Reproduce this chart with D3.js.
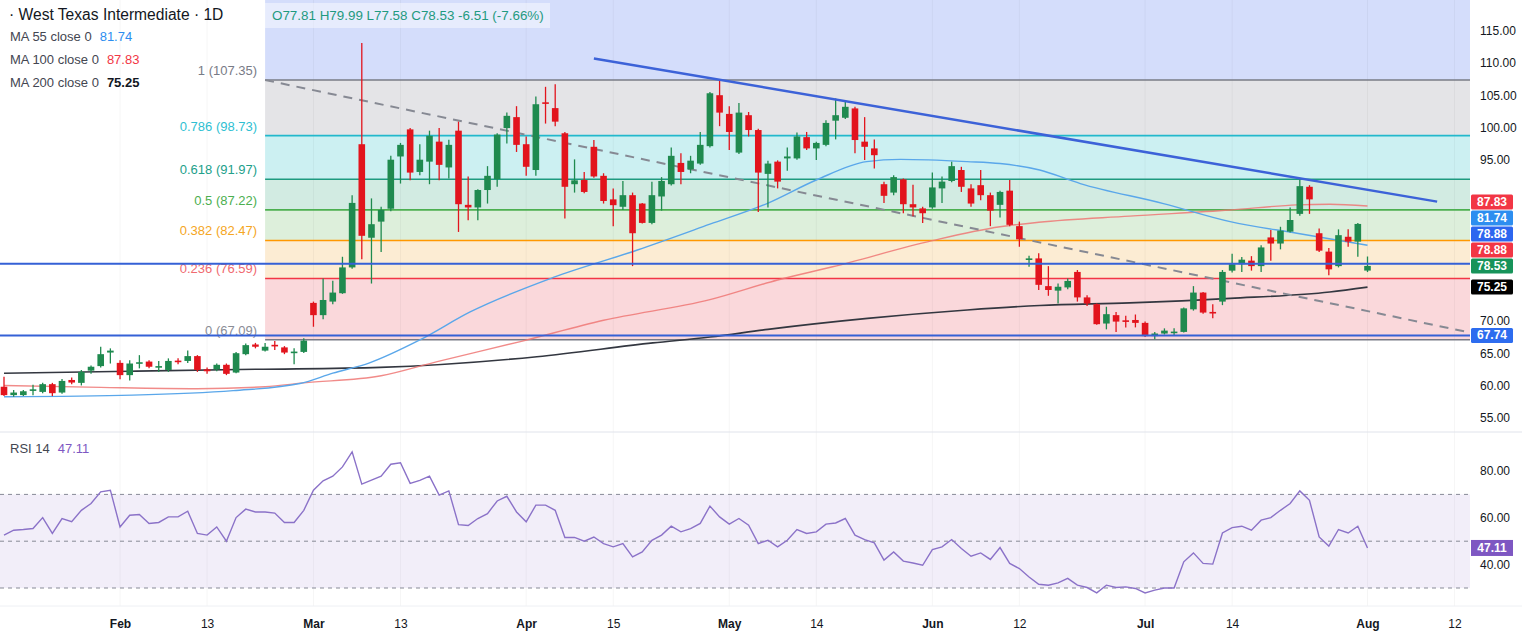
<!DOCTYPE html>
<html><head><meta charset="utf-8">
<script src="https://cdn.jsdelivr.net/npm/d3@7/dist/d3.min.js"></script>
<style>
html,body{margin:0;padding:0;background:#fff;overflow:hidden;}
svg{display:block;font-family:"Liberation Sans",Arial,sans-serif;}
</style></head><body>
<svg id="c" width="1522" height="632"></svg>
<script>
// ---------------- DATA ----------------
const opens=[59.8,58.5,58.5,59.2,59.0,60.2,58.9,60.85,60.4,62.3,
63.0,65.1,63.5,61.6,63.4,63.7,62.85,62.4,63.85,63.8,
64.55,62.5,62.5,63.2,62.0,64.85,66.35,65.4,66.3,65.9,
65.15,65.2,72.8,70.9,73.0,74.3,78.3,97.4,82.9,85.4,
87.4,95.5,99.7,93.1,94.7,97.8,93.8,99.5,88.0,87.6,
90.3,92.0,99.9,101.6,97.4,93.4,103.9,103.0,99.1,91.2,
91.85,97.0,92.5,88.85,87.7,89.5,88.2,85.2,89.3,91.2,
94.5,93.5,94.4,97.1,105.0,102.1,96.1,101.9,99.6,92.8,
94.7,95.2,95.2,98.5,96.75,97.3,101.05,101.5,102.95,97.8,
96.75,91.2,89.9,91.95,88.1,87.45,87.6,90.55,91.7,93.4,
90.55,91.05,89.5,88.0,90.2,84.7,79.6,79.7,75.4,74.7,
75.2,77.6,73.65,72.6,69.6,70.9,70.1,70.15,69.7,67.65,
68.05,68.25,68.3,71.8,74.4,71.4,73.0,77.8,78.8,79.35,
78.5,82.95,82.0,83.85,86.6,90.8,83.6,80.75,78.5,83.05,
82.3,77.81];
const highs=[61.35,59.3,59.3,60.1,60.4,60.4,61.0,61.25,62.4,63.1,
66.0,65.75,63.9,63.9,64.7,63.9,63.8,64.2,64.2,65.4,
64.7,62.8,63.4,63.4,65.2,66.5,66.6,66.6,66.9,66.1,
65.75,67.3,73.0,76.6,76.25,79.95,89.5,113.1,89.0,87.7,
95.6,97.6,99.9,97.4,99.5,99.9,98.1,100.9,92.4,90.4,
94.0,99.1,102.3,103.3,98.6,104.8,106.3,106.7,99.3,95.05,
93.1,98.05,92.9,90.55,91.7,89.9,88.3,91.6,92.3,96.9,
96.0,95.6,99.3,105.5,107.35,103.3,103.8,102.4,99.8,94.85,
94.9,96.9,99.2,99.3,97.8,101.1,104.5,104.0,103.2,101.6,
98.15,91.6,92.6,92.1,91.1,87.7,93.0,92.4,94.7,93.9,
91.2,93.4,89.9,90.2,91.85,85.4,80.1,80.5,78.5,75.8,
76.6,77.9,74.0,72.7,72.2,71.4,70.8,71.0,69.9,68.3,
68.85,68.85,72.1,75.4,74.5,72.6,77.9,80.4,79.9,80.05,
81.75,84.1,84.6,87.6,91.95,91.05,84.35,81.3,84.2,84.2,
85.2,79.99];
const lows=[58.35,58.25,58.35,58.5,58.8,58.35,58.7,60.2,60.0,61.8,
62.8,63.4,60.95,60.75,62.65,62.65,62.1,62.1,63.3,63.5,
62.1,61.8,62.2,61.6,61.9,64.7,65.75,65.25,65.5,64.85,
63.3,65.05,69.1,70.25,72.6,74.2,78.1,79.55,75.8,80.7,
87.0,91.3,91.8,92.6,91.2,91.8,92.1,83.8,85.6,85.6,
88.2,90.8,97.5,96.2,92.5,92.5,100.6,100.2,85.9,89.9,
89.8,92.2,88.2,84.7,87.2,78.5,85.1,85.0,87.1,91.0,
91.2,92.9,94.2,96.9,100.2,96.5,95.9,98.6,86.9,87.6,
90.55,93.3,95.0,96.5,94.95,97.1,98.15,101.3,96.0,94.95,
93.65,88.3,89.5,86.7,86.25,85.2,87.4,88.3,91.5,90.0,
87.7,88.7,84.7,86.05,84.7,81.5,78.4,74.8,73.9,72.7,
74.9,73.0,72.3,69.4,68.7,68.3,69.0,69.0,67.5,67.15,
67.9,67.65,68.2,71.6,71.1,70.4,72.45,77.5,77.6,77.8,
77.6,79.35,81.1,83.7,86.3,86.6,80.7,77.1,78.3,81.5,
79.95,77.58];
const closes=[58.5,58.9,59.1,59.4,60.2,58.8,60.7,60.45,62.1,62.9,
64.85,65.4,61.6,63.4,63.6,62.9,63.0,63.8,63.75,64.55,
62.4,62.2,63.2,61.8,65.0,66.25,66.0,66.0,66.15,65.1,
65.25,66.95,70.9,73.25,74.4,78.3,88.3,83.2,85.0,87.2,
95.0,97.3,93.0,95.0,98.7,94.2,97.3,88.1,87.6,90.3,
92.5,98.9,101.8,97.3,93.9,103.6,103.7,100.9,90.8,91.8,
90.0,92.4,88.6,87.95,89.5,83.6,85.2,89.5,91.7,95.6,
93.1,94.85,97.3,105.3,102.3,99.3,102.3,99.6,93.0,94.4,
91.6,95.5,98.6,96.75,97.6,100.7,101.9,103.2,98.05,97.0,
95.7,89.4,92.3,88.1,87.6,86.7,90.7,91.6,94.0,90.8,
88.2,89.5,87.1,90.0,84.9,82.65,79.7,75.6,74.8,75.3,
76.2,73.65,72.7,69.5,71.05,69.9,69.9,69.7,67.65,68.05,
68.5,68.35,71.95,74.4,71.3,71.2,77.6,78.8,79.5,78.5,
81.4,82.0,84.0,85.65,90.9,88.85,80.9,78.0,83.3,82.3,
85.04,78.53];
const rsiValues=[52.6,54.7,55.0,55.4,60.1,53.3,59.7,58.3,63.2,66.1,
71.1,71.8,56.1,61.1,61.4,57.6,58.0,60.4,60.4,62.8,
53.3,52.6,56.1,50.0,60.1,63.7,62.5,62.5,62.0,58.0,
58.0,63.2,71.8,75.8,77.8,81.75,88.2,74.4,76.1,77.8,
82.9,83.5,74.7,76.0,77.8,69.7,71.5,57.1,56.7,59.7,
61.8,67.2,69.2,62.5,58.3,65.4,65.4,63.2,51.6,51.6,
50.0,51.8,49.0,47.6,49.0,43.3,45.4,50.4,52.6,56.4,
54.0,55.4,57.6,65.0,60.4,57.3,59.7,56.8,49.0,50.4,
47.6,50.4,55.0,53.3,54.0,57.3,57.8,59.7,52.6,50.7,
49.3,41.9,45.4,41.5,40.7,39.7,46.4,47.6,50.7,46.9,
43.6,45.0,42.2,47.3,40.5,38.3,34.7,31.6,31.2,32.2,
34.1,31.2,30.2,27.9,31.2,30.2,30.5,29.8,27.9,29.1,
30.0,30.0,41.2,45.0,40.5,40.2,53.5,55.8,56.4,54.7,
59.0,60.1,63.2,66.1,71.5,67.5,51.8,47.9,55.0,53.5,
56.4,47.11];
// moving averages: [bar index, value]
const ma55Pts=[[0,58.25],[13.3,58.5],[23.7,59.2],[30.6,60.3],[34,61.9],[37.8,63.5],[43,67.05],[48.2,71.4],[56.8,76.75],[65.5,81.0],[73,85.0],[78.9,88.2],[84,91.85],[89.2,94.7],[92.7,95.05],[99.6,94.7],[103,94.4],[107.1,93.4],[111.3,91.3],[119.9,88.2],[126.8,85.4],[133.7,83.6],[141,81.74]];
const ma100Pts=[[0,60.0],[10,59.7],[20,59.5],[27,59.8],[31,60.4],[39,61.5],[44.8,63.7],[53.4,66.8],[62,70.1],[73,73.3],[80,76.35],[85.7,78.4],[96,82.45],[103,84.6],[107,85.3],[116.4,86.25],[126.8,87.2],[133.7,88.0],[137.1,88.1],[141,87.83]];
const ma200Pts=[[0,61.9],[13,62.2],[26,62.5],[38.9,62.8],[55.1,64.45],[67.1,66.6],[73,67.5],[79,68.7],[89.3,70.4],[99.6,71.7],[107.1,72.4],[116.4,72.8],[126.8,73.5],[137.1,74.5],[141,75.25]];
const fibRatios=["1","0.786","0.618","0.5","0.382","0.236","0"];
const fibPrices=[107.35,98.73,91.97,87.22,82.47,76.59,67.09];
const fibStartIdx=27;
const dashTrend=[[27,107.35],[151.6,68.2]];
const blueTrend=[[61,110.7],[148.2,88.5]];
const hLevels=[78.88,67.74];
const priceTicks=[55,60,65,70,75,80,85,90,95,100,105,110,115];
const rsiTicks=[40,60,80];
const rsiLevels=[70,50,30];
const tickIdx=[12,21,32,41,54,63,75,84,96,105,118,127,141,150];
const tickLabels=["Feb","13","Mar","13","Apr","15","May","14","Jun","12","Jul","14","Aug","12"];
const tagValues=[87.83,81.74,78.88,78.88,78.53,75.25,67.74];
const maLegendNames=["MA 55 close 0","MA 100 close 0","MA 200 close 0"];
const maLegendValues=["81.74","87.83","75.25"];
const headerText="O77.81 H79.99 L77.58 C78.53 -6.51 (-7.66%)";
const titleText="· West Texas Intermediate · 1D";

// ---------------- STYLE / LAYOUT ----------------
const W=1522,H=632,plotR=1470,paneSplit=432,rsiBottom=606;
const UP="#1f8a4f",DOWN="#e2141d";
const fibFill=["#d4ddfb","#e4e4e7","#ccf0f2","#d2ebe2","#ddefdb","#fcecd3","#fad8db"];
const fibLine=["#787b86","#22b8cc","#1e9a80","#4caf50","#ff9800","#f23645","#787b86"];
const fibText=["#787b86","#2fbfd2","#22a08a","#4caf50","#f5a623","#f06a70","#8a8d96"];
const tagColors=["#f23645","#2d8ef0","#2d66ef","#f23645","#17935a","#000000","#2d6cef"];
const maColors=["#5aa7ea","#ee7774","#333740"];
const legendValColors=["#2d8ef0","#f23645","#131722"];

const svg=d3.select("#c");
const x=d3.scaleLinear().domain([0,141]).range([4,1367.5]);
const y=d3.scaleLinear().domain([55,115]).range([417.7,30.7]);
const yr=d3.scaleLinear().domain([30,70]).range([588,494.4]);

svg.append("rect").attr("width",W).attr("height",H).attr("fill","#fff");

// fib fills
const fx0=x(fibStartIdx);
svg.append("rect").attr("x",fx0).attr("y",0).attr("width",plotR-fx0).attr("height",y(fibPrices[0])).attr("fill",fibFill[0]);
for(let i=0;i<fibPrices.length-1;i++){
  svg.append("rect").attr("x",fx0).attr("y",y(fibPrices[i])).attr("width",plotR-fx0)
    .attr("height",y(fibPrices[i+1])-y(fibPrices[i])).attr("fill",fibFill[i+1]);
}
// vertical grid
svg.append("g").selectAll("line").data(tickIdx).join("line")
  .attr("x1",d=>x(d)).attr("x2",d=>x(d)).attr("y1",0).attr("y2",rsiBottom)
  .attr("stroke","#000").attr("stroke-opacity",0.04);

// fib lines
svg.append("g").selectAll("line").data(fibPrices).join("line")
  .attr("x1",fx0).attr("x2",plotR).attr("y1",d=>y(d)).attr("y2",d=>y(d))
  .attr("stroke",(d,i)=>fibLine[i]).attr("stroke-width",1.6);
// fib labels
svg.append("g").selectAll("text").data(fibPrices).join("text")
  .attr("x",fx0-8).attr("y",d=>y(d)-8.5).attr("text-anchor","end").attr("dominant-baseline","middle")
  .attr("font-size",13).attr("fill",(d,i)=>fibText[i])
  .text((d,i)=>fibRatios[i]+" ("+d.toFixed(2)+")");

// moving averages
const maLine=d3.line().x(d=>x(d[0])).y(d=>y(d[1])).curve(d3.curveMonotoneX);
[ma200Pts,ma100Pts,ma55Pts].forEach((pts,k)=>{
  const ci=[2,1,0][k];
  svg.append("path").attr("d",maLine(pts)).attr("fill","none")
    .attr("stroke",maColors[ci]).attr("stroke-width",ci===2?1.6:1.4).attr("stroke-opacity",ci===1?0.85:1);
});

// dashed trend
const tl=d3.line().x(d=>x(d[0])).y(d=>y(d[1]));
svg.append("path").attr("d",tl(dashTrend)).attr("stroke","#868993").attr("stroke-width",2)
  .attr("stroke-dasharray","9,7").attr("fill","none");

// candles
const bw=6.6;
const cg=svg.append("g");
closes.forEach((c,i)=>{
  const o=opens[i],col=c>=o?UP:DOWN,cx=x(i);
  cg.append("line").attr("x1",cx).attr("x2",cx).attr("y1",y(highs[i])).attr("y2",y(lows[i]))
    .attr("stroke",col).attr("stroke-width",1.3);
  const top=y(Math.max(o,c)),h=Math.max(1.6,Math.abs(y(o)-y(c)));
  cg.append("rect").attr("x",cx-bw/2).attr("y",top).attr("width",bw).attr("height",h).attr("fill",col);
});

// blue trend line and horizontal levels
svg.append("path").attr("d",tl(blueTrend)).attr("stroke","#3c62d8").attr("stroke-width",2.5).attr("fill","none");
svg.append("g").selectAll("line").data(hLevels).join("line")
  .attr("x1",0).attr("x2",plotR).attr("y1",d=>y(d)).attr("y2",d=>y(d))
  .attr("stroke","#3561d6").attr("stroke-width",2);

// header / legend
svg.append("rect").attr("x",265).attr("y",3).attr("width",285).attr("height",25).attr("fill","#fff").attr("fill-opacity",0.45);
svg.append("text").attr("x",272).attr("y",16).attr("dominant-baseline","middle").attr("font-size",13.4)
  .attr("fill","#1f9a80").text(headerText);
svg.append("text").attr("x",9).attr("y",15.5).attr("dominant-baseline","middle").attr("font-size",15.6)
  .attr("fill","#131722").text(titleText);
maLegendNames.forEach((n,i)=>{
  const t=svg.append("text").attr("x",10).attr("y",38+i*23).attr("dominant-baseline","middle").attr("font-size",13);
  t.append("tspan").attr("fill","#434651").text(n);
  t.append("tspan").attr("dx",8).attr("fill",legendValColors[i]).attr("font-weight",i===2?600:400).text(maLegendValues[i]);
});

// pane separators
svg.append("line").attr("x1",0).attr("x2",W).attr("y1",paneSplit).attr("y2",paneSplit).attr("stroke","#e0e3eb");
svg.append("line").attr("x1",0).attr("x2",W).attr("y1",rsiBottom).attr("y2",rsiBottom).attr("stroke","#eef0f4");

// axis tags with stacking (computed first so covered tick labels can be hidden)
const order=tagValues.map((v,i)=>({v,i,y:y(v)}));
for(let k=order.length-2;k>=0;k--){ order[k].y=Math.min(order[k].y,order[k+1].y-16); }
const covered=v=>order.some(o=>Math.abs(y(v)-o.y)<11);

// price axis
const pa=svg.append("g").attr("transform",`translate(${plotR},0)`)
  .call(d3.axisRight(y).tickValues(priceTicks.filter(v=>!covered(v))).tickFormat(d3.format(".2f")).tickSize(0).tickPadding(10));
pa.select(".domain").remove();
pa.selectAll("text").attr("font-size",12).attr("fill","#131722").attr("font-family","Liberation Sans, Arial, sans-serif");

const tg=svg.append("g");
order.forEach(o=>{
  tg.append("rect").attr("x",plotR+1).attr("y",o.y-7.5).attr("width",42).attr("height",15).attr("rx",1.5).attr("fill",tagColors[o.i]);
  tg.append("text").attr("x",plotR+22).attr("y",o.y+0.5).attr("text-anchor","middle").attr("dominant-baseline","middle")
    .attr("font-size",12).attr("font-weight",600).attr("fill","#fff").text(o.v.toFixed(2));
});

// RSI pane
svg.append("rect").attr("x",0).attr("y",yr(70)).attr("width",plotR).attr("height",yr(30)-yr(70))
  .attr("fill","#7e57c2").attr("fill-opacity",0.1);
svg.append("g").selectAll("line").data(rsiLevels).join("line")
  .attr("x1",0).attr("x2",plotR).attr("y1",d=>yr(d)).attr("y2",d=>yr(d))
  .attr("stroke","#878a96").attr("stroke-dasharray","4,4").attr("stroke-width",1);
const rl=d3.line().x((d,i)=>x(i)).y(d=>yr(d));
svg.append("path").attr("d",rl(rsiValues)).attr("fill","none").attr("stroke","#8b72c8").attr("stroke-width",1.4);
const ra=svg.append("g").attr("transform",`translate(${plotR},0)`)
  .call(d3.axisRight(yr).tickValues(rsiTicks).tickFormat(d3.format(".2f")).tickSize(0).tickPadding(10));
ra.select(".domain").remove();
ra.selectAll("text").attr("font-size",12).attr("fill","#131722").attr("font-family","Liberation Sans, Arial, sans-serif");
const lastR=rsiValues[rsiValues.length-1];
svg.append("rect").attr("x",plotR+1).attr("y",yr(lastR)-8).attr("width",42).attr("height",16).attr("fill","#7e57c2");
svg.append("text").attr("x",plotR+22).attr("y",yr(lastR)+0.5).attr("text-anchor","middle").attr("dominant-baseline","middle")
  .attr("font-size",12).attr("font-weight",600).attr("fill","#fff").text(lastR.toFixed(2));
const rt=svg.append("text").attr("x",10).attr("y",450).attr("dominant-baseline","middle").attr("font-size",13);
rt.append("tspan").attr("fill","#434651").text("RSI 14");
rt.append("tspan").attr("dx",8).attr("fill","#7e57c2").text(lastR.toFixed(2));

// time axis
const xa=svg.append("g").attr("transform","translate(0,616)")
  .call(d3.axisBottom(x).tickValues(tickIdx).tickFormat((d,i)=>tickLabels[i]).tickSize(0).tickPadding(3));
xa.select(".domain").remove();
xa.selectAll("text").attr("font-size",12).attr("fill","#131722").attr("font-family","Liberation Sans, Arial, sans-serif")
  .attr("font-weight",(d,i)=>/^[A-Z]/.test(tickLabels[i])?700:400);
</script>
</body></html>
